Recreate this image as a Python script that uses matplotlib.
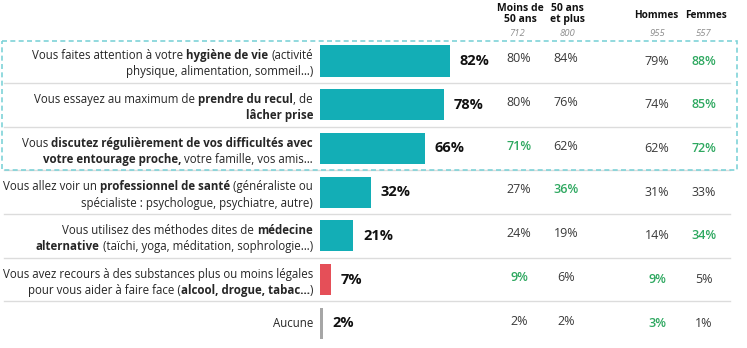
import matplotlib
matplotlib.use("Agg")
import matplotlib.pyplot as plt
from matplotlib.patches import Rectangle

plt.rcParams['font.family'] = ['Open Sans', 'DejaVu Sans']

# ---- data ----
labels = [
    ["Vous faites attention à votre **hygiène de vie** (activité",
     "physique, alimentation, sommeil…)"],
    ["Vous essayez au maximum de **prendre du recul**, de",
     "**lâcher prise**"],
    ["Vous **discutez régulièrement de vos difficultés avec**",
     "**votre entourage proche,** votre famille, vos amis…"],
    ["Vous allez voir un **professionnel de santé** (généraliste ou",
     "spécialiste : psychologue, psychiatre, autre)"],
    ["Vous utilisez des méthodes dites de **médecine**",
     "**alternative** (taïchi, yoga, méditation, sophrologie…)"],
    ["Vous avez recours à des substances plus ou moins légales",
     "pour vous aider à faire face (**alcool, drogue, tabac…**)"],
    ["Aucune"],
]
total = [82, 78, 66, 32, 21, 7, 2]

col_headers = ["Moins de\n50 ans", "50 ans\net plus", "Hommes", "Femmes"]
col_bases = ["712", "800", "955", "557"]
moins50 = [80, 80, 71, 27, 24, 9, 2]
plus50 = [84, 76, 62, 36, 19, 6, 2]
hommes = [79, 74, 62, 31, 14, 9, 3]
femmes = [88, 85, 72, 33, 34, 5, 1]
# significantly higher (shown in green)
sig_moins50 = [0, 0, 1, 0, 0, 1, 0]
sig_plus50 = [0, 0, 0, 1, 0, 0, 0]
sig_hommes = [0, 0, 0, 0, 0, 1, 1]
sig_femmes = [1, 1, 1, 0, 1, 0, 0]

bar_colors = ['#13aeb6'] * 5 + ['#e54f58', '#a6a6a6']
green = '#2ea860'
txt_col = '#262626'

W, H = 747, 348
fig = plt.figure(figsize=(W / 100, H / 100), dpi=100)
ymin, ymax = 6.567, -1.396

# background axes in pixel units (x) and row units (y)
ax = fig.add_axes([0, 0, 1, 1])
ax.set_xlim(0, W)
ax.set_ylim(ymin, ymax)
ax.axis('off')

# bar axes: 0..100 %
bx = fig.add_axes([320 / W, 0, 158.5 / W, 1])
bx.set_xlim(0, 100)
bx.set_ylim(ymin, ymax)
bx.axis('off')

n = len(total)
rows = list(range(n))
bx.barh(rows, total, height=0.71, color=bar_colors, edgecolor='none')
for i, v in enumerate(total):
    bx.annotate(f"{v}%", (v, i), xytext=(7, 0), textcoords='offset points',
                ha='left', va='center', fontsize=10.5, weight='bold', color='#111111')

# separators
for i in range(n - 1):
    ax.plot([4, 730], [i + 0.5, i + 0.5], color='#dcdcdc', lw=1, zorder=0)

# dashed box around first three rows
ax.add_patch(Rectangle((2, -0.45), 735, 2.95, fill=False, ls=(0, (3, 2)),
                       lw=1.2, edgecolor='#7fd3d8', zorder=3))

# rich text labels
fig.canvas.draw()
r = fig.canvas.get_renderer()


def width_of(s, bold, size):
    t = ax.text(0, 0, s, fontsize=size, weight='bold' if bold else 'normal')
    w = t.get_window_extent(r).width
    t.remove()
    return w


fs = 8.3
space_w = width_of("a a", False, fs) - width_of("aa", False, fs)


def rich_line(x_right, y, line):
    parts = line.split("**")
    segs = []
    for k, p in enumerate(parts):
        if p == "":
            continue
        bold = k % 2 == 1
        lead = len(p) - len(p.lstrip(" "))
        trail = len(p) - len(p.rstrip(" "))
        core = p.strip(" ")
        segs.append((core, bold, lead, trail, width_of(core, bold, fs)))
    tot = sum(s[4] + (s[2] + s[3]) * space_w for s in segs)
    x = x_right - tot
    for core, bold, lead, trail, w in segs:
        x += lead * space_w
        ax.text(x, y, core, fontsize=fs, weight='bold' if bold else 'normal',
                ha='left', va='center', color=txt_col)
        x += w + trail * space_w


for i, lines in enumerate(labels):
    if len(lines) == 1:
        rich_line(313, i, lines[0])
    else:
        rich_line(313, i - 0.12, lines[0])
        rich_line(313, i + 0.25, lines[1])

# table columns
col_x = [519, 566, 657, 704]
cols = [moins50, plus50, hommes, femmes]
sigs = [sig_moins50, sig_plus50, sig_hommes, sig_femmes]
dy = [-0.05, -0.05, 0.0, 0.0]
for cx, vals, sg, d in zip(col_x, cols, sigs, dy):
    for i, v in enumerate(vals):
        ax.text(cx, i + d, f"{v}%", ha='center', va='center', fontsize=9,
                color=green if sg[i] else '#3a3a3a',
                weight='semibold' if sg[i] else 'normal')

head_x = [520, 567, 656, 706]
head_y = [-1.07, -1.07, -1.04, -1.04]
head_fs = [7.5, 7.5, 7.2, 7.2]
base_x = [517, 567, 657, 704]
for hx, hy, hf, bxp, h, b in zip(head_x, head_y, head_fs, base_x, col_headers, col_bases):
    ax.text(hx, hy, h, ha='center', va='center', fontsize=hf, weight='bold',
            color='#111111', linespacing=1.0)
    ax.text(bxp, -0.63, b, ha='center', va='center', fontsize=6.8, style='italic',
            color='#8c8c8c')

fig.savefig("out.png", dpi=100)
